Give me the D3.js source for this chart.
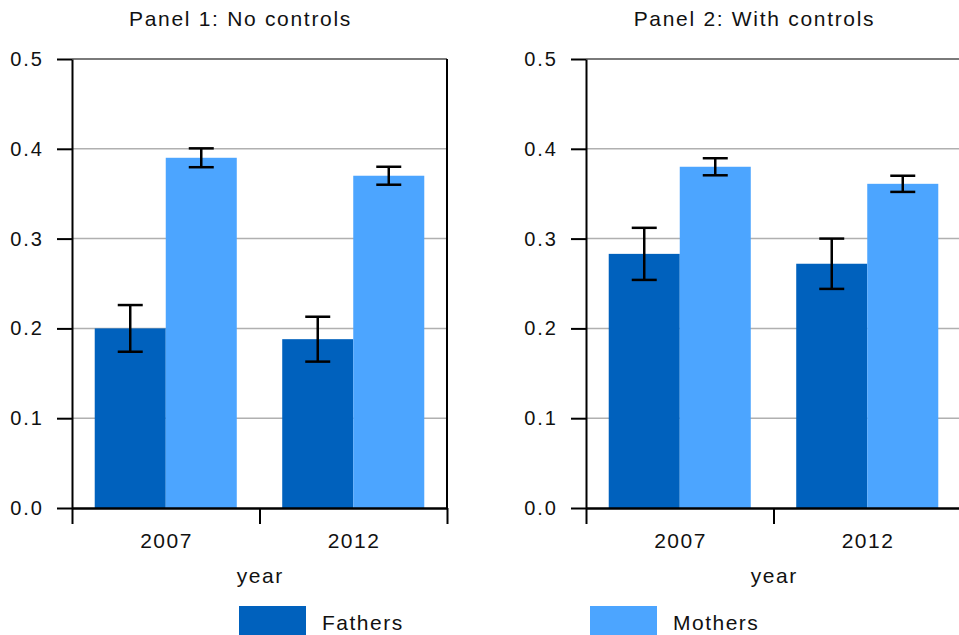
<!DOCTYPE html>
<html>
<head>
<meta charset="utf-8">
<script src="https://cdn.jsdelivr.net/npm/d3@7"></script>
<style>
  body { margin: 0; background: #fff; }
  text { font-family: "Liberation Sans", Arial, sans-serif; fill: #111; letter-spacing: 1.5px; }
</style>
</head>
<body>
<div id="chart"></div>
<script>
// data
const years = ["2007", "2012"];
const groups = ["Fathers", "Mothers"];
const panelTitles = ["Panel 1: No controls", "Panel 2: With controls"];

const p1Fathers = [0.200, 0.188];
const p1Mothers = [0.390, 0.370];
const p1FathersErr = [0.026, 0.025];
const p1MothersErr = [0.0105, 0.010];

const p2Fathers = [0.283, 0.272];
const p2Mothers = [0.380, 0.361];
const p2FathersErr = [0.029, 0.028];
const p2MothersErr = [0.0095, 0.009];

const yTicks = [0, 0.1, 0.2, 0.3, 0.4, 0.5];
const colors = ["#0061bd", "#4ca5ff"];

const width = 959, height = 635;
const plotTop = 59, plotBottom = 508;

const svg = d3.select("#chart")
  .append("svg")
  .attr("width", width)
  .attr("height", height);

const yScale = d3.scaleLinear().domain([0, 0.5]).range([plotBottom, plotTop]);

const panels = [
  { left: 72, right: 447, values: [p1Fathers, p1Mothers], errs: [p1FathersErr, p1MothersErr], border: true },
  { left: 586, right: 961, values: [p2Fathers, p2Mothers], errs: [p2FathersErr, p2MothersErr], border: false }
];

panels.forEach((p, pi) => {
  const g = svg.append("g");

  const x0 = d3.scaleBand().domain(years).range([p.left, p.right]).padding(0);
  const x1 = d3.scaleBand().domain(groups).range([0, x0.bandwidth()])
               .paddingInner(0).paddingOuter(0.32);

  // gridlines
  g.selectAll(".grid")
    .data(yTicks.filter(t => t > 0))
    .enter()
    .append("line")
    .attr("x1", p.left).attr("x2", p.right)
    .attr("y1", d => yScale(d)).attr("y2", d => yScale(d))
    .attr("stroke", d => d === 0.5 ? "#7a7a7a" : "#b0b0b0")
    .attr("stroke-width", d => d === 0.5 ? 2 : 1.5);

  // bars
  const rows = [];
  years.forEach((yr, i) => {
    groups.forEach((grp, j) => {
      rows.push({ year: yr, group: grp, j: j, v: p.values[j][i], e: p.errs[j][i] });
    });
  });

  g.selectAll(".bar")
    .data(rows)
    .enter()
    .append("rect")
    .attr("x", d => x0(d.year) + x1(d.group))
    .attr("y", d => yScale(d.v))
    .attr("width", x1.bandwidth())
    .attr("height", d => yScale(0) - yScale(d.v))
    .attr("fill", d => colors[d.j]);

  // error bars
  const eb = g.selectAll(".err")
    .data(rows)
    .enter()
    .append("g")
    .attr("stroke", "#000")
    .attr("stroke-width", 2.5);
  const cx = d => x0(d.year) + x1(d.group) + x1.bandwidth() / 2;
  eb.append("line")
    .attr("x1", cx).attr("x2", cx)
    .attr("y1", d => yScale(d.v + d.e)).attr("y2", d => yScale(d.v - d.e));
  [1, -1].forEach(s => {
    eb.append("line")
      .attr("x1", d => cx(d) - 12.5).attr("x2", d => cx(d) + 12.5)
      .attr("y1", d => yScale(d.v + s * d.e)).attr("y2", d => yScale(d.v + s * d.e));
  });

  // right border of the frame
  if (p.border) {
    g.append("line")
      .attr("x1", p.right).attr("x2", p.right)
      .attr("y1", plotTop).attr("y2", plotBottom)
      .attr("stroke", "#000").attr("stroke-width", 2);
  }

  // y axis
  const yAxis = g.append("g")
    .attr("transform", `translate(${p.left},0)`)
    .call(d3.axisLeft(yScale).tickValues(yTicks).tickFormat(d3.format(".1f"))
            .tickSize(15).tickPadding(13).tickSizeOuter(0));
  yAxis.select(".domain").attr("stroke-width", 2);
  yAxis.selectAll(".tick line").attr("stroke-width", 2);
  yAxis.selectAll("text").attr("font-size", "20px").attr("fill", "#111")
       .attr("font-family", "Liberation Sans, Arial, sans-serif")
       .style("letter-spacing", "2px");

  // x axis: ticks at the band edges, labels at the centres
  const xEdge = d3.scaleLinear().domain([0, years.length]).range([p.left, p.right]);
  const xAxisTicks = g.append("g")
    .attr("transform", `translate(0,${plotBottom})`)
    .call(d3.axisBottom(xEdge).tickValues([0, 1, 2]).tickFormat("").tickSize(16).tickSizeOuter(0));
  xAxisTicks.select(".domain").attr("stroke-width", 2.5);
  xAxisTicks.selectAll(".tick line").attr("stroke-width", 2);

  const xAxisLabels = g.append("g")
    .attr("transform", `translate(0,${plotBottom})`)
    .call(d3.axisBottom(x0).tickSize(0).tickPadding(25));
  xAxisLabels.select(".domain").remove();
  xAxisLabels.selectAll("text").attr("font-size", "21px").attr("fill", "#111")
       .attr("font-family", "Liberation Sans, Arial, sans-serif")
       .attr("dx", "0.75px");

  // axis title
  g.append("text")
    .attr("x", (p.left + p.right) / 2 + 0.75)
    .attr("y", 583)
    .attr("text-anchor", "middle")
    .attr("font-size", "21px")
    .text("year");

  // panel title
  g.append("text")
    .attr("x", (p.left + p.right) / 2 - 19)
    .attr("y", 25.5)
    .attr("text-anchor", "middle")
    .attr("font-size", "21px")
    .style("letter-spacing", "1.7px")
    .text(panelTitles[pi]);
});

// legend
const legendX = [239, 590];
groups.forEach((grp, j) => {
  svg.append("rect")
    .attr("x", legendX[j]).attr("y", 606)
    .attr("width", 67).attr("height", 30)
    .attr("fill", colors[j]);
  svg.append("text")
    .attr("x", legendX[j] + 83).attr("y", 629.5)
    .attr("font-size", "21px")
    .text(grp);
});
</script>
</body>
</html>
